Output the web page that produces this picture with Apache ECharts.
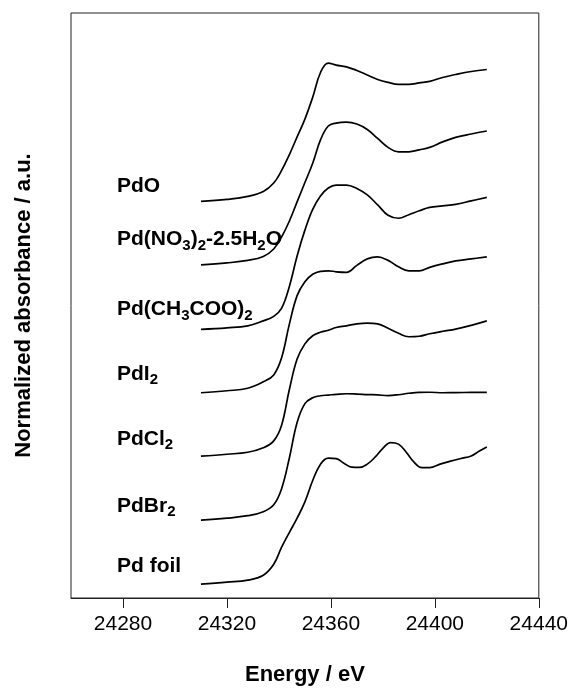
<!DOCTYPE html>
<html><head><meta charset="utf-8">
<script src="https://cdn.jsdelivr.net/npm/echarts@6/dist/echarts.min.js"></script>
<style>html,body{margin:0;padding:0;background:#fff}#c{width:571px;height:691px}</style>
</head><body><div id="c"></div>
<script>
// Energy grid (eV) shared by the six compound spectra
const energy = [24310,24320,24328,24334,24338,24341,24344,24347,24350,24353,24356,24359,24362,24366,24370,24374,24378,24382,24386,24390,24394,24398,24403,24408,24414,24420];
// Normalized absorbance (a.u., vertically offset as in the figure)
const PdO   = [4.00,4.02,4.05,4.10,4.185,4.31,4.47,4.65,4.83,5.05,5.30,5.395,5.375,5.357,5.32,5.275,5.23,5.20,5.18,5.18,5.195,5.21,5.25,5.28,5.31,5.33];
const PdNO3 = [3.36,3.38,3.405,3.445,3.52,3.64,3.80,3.995,4.19,4.385,4.62,4.76,4.79,4.80,4.78,4.725,4.635,4.545,4.50,4.50,4.52,4.545,4.60,4.645,4.68,4.71];
const PdAc  = [2.71,2.725,2.745,2.795,2.84,2.92,3.14,3.45,3.71,3.92,4.055,4.135,4.165,4.165,4.13,4.065,3.965,3.86,3.83,3.865,3.905,3.94,3.955,3.97,4.005,4.04];
const PdI2  = [2.07,2.09,2.115,2.18,2.25,2.42,2.76,3.05,3.19,3.265,3.295,3.30,3.29,3.285,3.355,3.42,3.44,3.405,3.34,3.30,3.30,3.335,3.37,3.40,3.42,3.44];
const PdCl2 = [1.43,1.45,1.47,1.515,1.585,1.74,2.10,2.41,2.563,2.645,2.68,2.70,2.728,2.745,2.765,2.773,2.765,2.72,2.67,2.635,2.64,2.665,2.69,2.712,2.75,2.795];
const PdBr2 = [0.785,0.805,0.83,0.87,0.94,1.10,1.41,1.77,1.96,2.02,2.04,2.047,2.054,2.06,2.057,2.052,2.048,2.042,2.05,2.065,2.074,2.075,2.07,2.072,2.073,2.073];
// Pd foil has its own (denser) energy grid because of its oscillations
const energyFoil = [24310,24320,24328,24334,24338,24341,24344,24347,24350,24353,24356,24359,24362,24365,24368,24371,24374,24377,24380,24383,24386,24389,24392,24395,24398,24402,24406,24410,24414,24417,24420];
const PdFoil = [0.14,0.16,0.18,0.23,0.34,0.51,0.66,0.805,0.97,1.185,1.35,1.41,1.405,1.36,1.32,1.317,1.35,1.42,1.51,1.568,1.552,1.47,1.37,1.315,1.315,1.35,1.38,1.407,1.432,1.48,1.523];

const seriesNames = ['PdO','Pd(NO3)2-2.5H2O','Pd(CH3COO)2','PdI2','PdCl2','PdBr2','Pd foil'];
const seriesX = [energy, energy, energy, energy, energy, energy, energyFoil];
const seriesY = [PdO, PdNO3, PdAc, PdI2, PdCl2, PdBr2, PdFoil];
// rich-text labels (subscripts)
const labelTexts = ['{m|PdO}','{m|Pd(NO}{s|3}{m|)}{s|2}{m|-2.5H}{s|2}{m|O}','{m|Pd(CH}{s|3}{m|COO)}{s|2}','{m|PdI}{s|2}','{m|PdCl}{s|2}','{m|PdBr}{s|2}','{m|Pd foil}'];
const xTicks = [24280, 24320, 24360, 24400, 24440];

// label placement (style, in data units)
const labelX = 24277.7;
const labelY = [4.15, 3.615, 2.91, 2.26, 1.605, 0.925, 0.325];

const FONT = '"Liberation Sans", Arial, Helvetica, sans-serif';
const chart = echarts.init(document.getElementById('c'), null, {renderer:'canvas'});
chart.setOption({
  animation:false,
  backgroundColor:'#fff',
  grid:{left:71,right:31,top:13,bottom:87,show:true,borderColor:'#222',borderWidth:1,backgroundColor:'transparent'},
  xAxis:{type:'value',min:24260,max:24440,
    name:'Energy / eV',nameLocation:'middle',nameGap:66,
    nameTextStyle:{fontFamily:FONT,fontWeight:'bold',fontSize:22,color:'#000'},
    axisLine:{show:true,lineStyle:{color:'#222',width:1}},
    axisTick:{show:true,length:10,inside:false,customValues:xTicks,lineStyle:{color:'#222',width:1}},
    axisLabel:{customValues:xTicks,margin:16,fontFamily:FONT,fontSize:21,color:'#000',formatter:v=>String(v)},
    splitLine:{show:false}},
  yAxis:{type:'value',min:0,max:5.9,
    name:'Normalized absorbance / a.u.',nameLocation:'middle',nameGap:36,nameRotate:90,
    nameTextStyle:{fontFamily:FONT,fontWeight:'bold',fontSize:22,color:'#000'},
    axisLine:{show:false},axisTick:{show:false},axisLabel:{show:false},splitLine:{show:false}},
  series: seriesY.map((ys,i)=>({
    name:seriesNames[i],type:'line',data:ys.map((v,j)=>[seriesX[i][j],v]),smooth:0.4,symbol:'none',
    lineStyle:{color:'#000',width:1.7}
  }))
});
const rich = {
  m:{fontFamily:FONT,fontWeight:'bold',fontSize:21,lineHeight:27,verticalAlign:'middle',fill:'#000'},
  s:{fontFamily:FONT,fontWeight:'bold',fontSize:15,lineHeight:27,verticalAlign:'bottom',fill:'#000'}
};
const graphics = labelTexts.map((t,i)=>{
  const p = chart.convertToPixel({gridIndex:0},[labelX,labelY[i]]);
  return {type:'text',x:p[0],y:p[1],z:100,style:{text:t,rich:rich,align:'left',verticalAlign:'middle',fill:'#000',fontFamily:FONT,fontWeight:'bold',fontSize:21}};
});
chart.setOption({graphic:graphics});
</script></body></html>
